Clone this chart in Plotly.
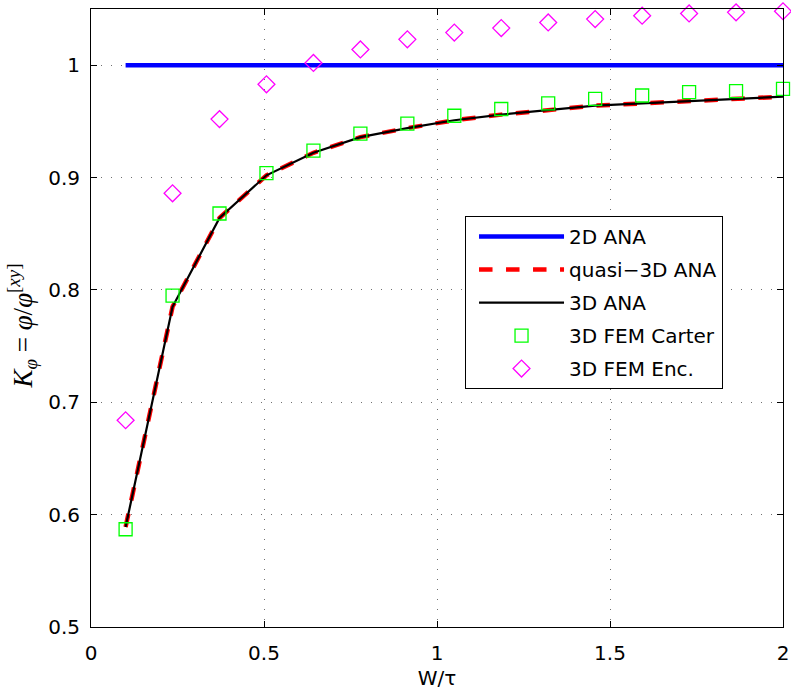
import plotly.graph_objects as go

x_fem = [0.1, 0.2357, 0.3714, 0.5071, 0.6429, 0.7786, 0.9143, 1.05, 1.1857, 1.3214, 1.4571, 1.5929, 1.7286, 1.8643, 2.0]
carter = [0.587, 0.795, 0.868, 0.904, 0.924, 0.939, 0.948, 0.955, 0.961, 0.966, 0.970, 0.973, 0.976, 0.977, 0.979]
enc = [0.684, 0.886, 0.952, 0.983, 1.002, 1.014, 1.023, 1.029, 1.033, 1.038, 1.041, 1.044, 1.046, 1.047, 1.048]
ana3d = [0.589, 0.785, 0.864, 0.902, 0.922, 0.936, 0.944, 0.951, 0.956, 0.960, 0.964, 0.966, 0.968, 0.970, 0.972]
quasi3d = [0.589, 0.785, 0.864, 0.902, 0.922, 0.936, 0.944, 0.951, 0.956, 0.960, 0.964, 0.966, 0.968, 0.970, 0.972]
ana2d = [1.0] * len(x_fem)
x_ticks = [0, 0.5, 1, 1.5, 2]
x_ticklabels = ["0", "0.5", "1", "1.5", "2"]
y_ticks = [0.5, 0.6, 0.7, 0.8, 0.9, 1.0]
y_ticklabels = ["0.5", "0.6", "0.7", "0.8", "0.9", "1"]

FONT = "DejaVu Sans, Liberation Sans, Arial, sans-serif"

fig = go.Figure()
fig.add_trace(go.Scatter(x=x_fem, y=ana2d, mode="lines", name="2D ANA",
                         line=dict(color="#0000ff", width=4.5), legendgroup="a"))
fig.add_trace(go.Scatter(x=x_fem, y=quasi3d, mode="lines", name="quasi\u22123D ANA",
                         line=dict(color="#ff0000", width=4.5, dash="dash"), legendgroup="b"))
fig.add_trace(go.Scatter(x=x_fem, y=ana3d, mode="lines", name="3D ANA",
                         line=dict(color="#000000", width=2.2), legendgroup="c"))
fig.add_trace(go.Scatter(x=x_fem, y=carter, mode="markers", name="3D FEM Carter",
                         marker=dict(symbol="square-open", size=13, color="#00ff00",
                                     line=dict(width=1.3, color="#00ff00")),
                         legendgroup="d", cliponaxis=False))
fig.add_trace(go.Scatter(x=x_fem, y=enc, mode="markers", name="3D FEM Enc.",
                         marker=dict(symbol="diamond-open", size=13, color="#ff00ff",
                                     line=dict(width=1.3, color="#ff00ff")),
                         legendgroup="e", cliponaxis=False))

axis_common = dict(
    showline=True, linecolor="black", linewidth=1, mirror="ticks",
    ticks="inside", ticklen=6, tickcolor="black", tickwidth=1,
    showgrid=True, gridcolor="#707070", griddash="1px,9px", gridwidth=1,
    zeroline=False, automargin=False,
    tickfont=dict(family=FONT, size=20, color="black"),
)

fig.update_xaxes(range=[0, 2], tickvals=x_ticks, ticktext=x_ticklabels, ticklabelstandoff=8,
                 title=dict(text="W/\u03c4", font=dict(family=FONT, size=20, color="black"), standoff=6),
                 **axis_common)
fig.update_yaxes(range=[0.5, 1.05], tickvals=y_ticks, ticktext=y_ticklabels, ticklabelstandoff=6,
                 **axis_common)

fig.add_annotation(
    text="<i>K</i><sub><i>\u03c6</i></sub> = <i>\u03c6</i>/<i>\u03c6</i><sup>[<i>xy</i>]</sup>",
    xref="paper", yref="paper", x=-0.099, y=0.487, xanchor="center", yanchor="middle",
    textangle=-90, showarrow=False,
    font=dict(family="Liberation Serif, DejaVu Serif, serif", size=27, color="black"),
)

fig.update_layout(
    width=791, height=692,
    margin=dict(l=91, r=8, t=9, b=65),
    plot_bgcolor="white", paper_bgcolor="white",
    legend=dict(x=0.5405, y=0.665, xanchor="left", yanchor="top",
                bgcolor="white", bordercolor="black", borderwidth=1,
                font=dict(family=FONT, size=20, color="black"),
                tracegroupgap=4, itemwidth=85, indentation=8),
    showlegend=True,
)

fig.write_html("out.html", config={"displayModeBar": False},
               post_script="document.body.style.margin='0';document.body.style.overflow='hidden';")
